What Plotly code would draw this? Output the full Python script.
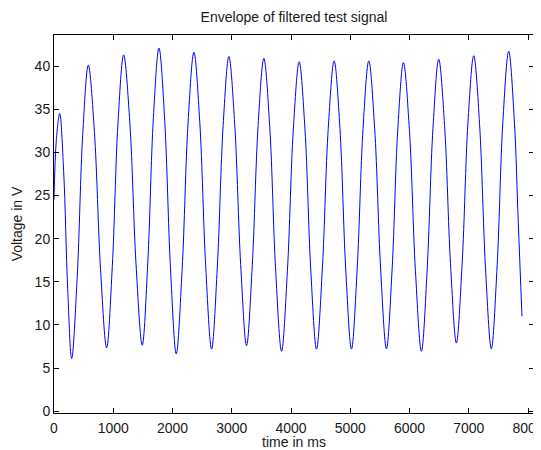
import plotly.graph_objects as go

# Time (ms) and envelope voltage (V)
time_ms = [0, 40, 96, 163, 231, 298, 392, 485, 579, 682, 785, 888, 984, 1079,
           1175, 1280, 1384, 1489, 1583, 1677, 1771, 1868, 1966, 2063, 2162, 2262,
           2361, 2460, 2560, 2659, 2756, 2854, 2951, 3050, 3150, 3249, 3346, 3444,
           3541, 3641, 3740, 3840, 3939, 4038, 4137, 4235, 4332, 4430, 4529, 4628,
           4727, 4825, 4922, 5020, 5117, 5215, 5312, 5411, 5511, 5610, 5706, 5801,
           5897, 5998, 6099, 6200, 6297, 6395, 6492, 6591, 6691, 6790, 6888, 6985,
           7083, 7182, 7281, 7380, 7478, 7575, 7673, 7770, 7835, 7897]
voltage = [24.5, 31.5, 34.5, 27.8, 14.2, 6.1, 15.6, 32.1, 40.1, 32.4, 16.5, 7.35, 16.8, 33.3,
           41.3, 33.4, 17.1, 7.65, 17.3, 34.0, 42.1, 33.7, 16.5, 6.65, 16.4, 33.4,
           41.6, 33.5, 16.8, 7.2, 16.7, 33.1, 41.1, 33.2, 17.0, 7.6, 16.9, 33.1,
           40.9, 32.9, 16.4, 6.95, 16.3, 32.6, 40.5, 32.7, 16.5, 7.2, 16.6, 32.8,
           40.6, 32.8, 16.6, 7.2, 16.6, 32.8, 40.6, 32.8, 16.6, 7.25, 16.5, 32.6,
           40.4, 32.5, 16.3, 6.95, 16.4, 32.8, 40.8, 33.1, 17.1, 7.9, 17.2, 33.4,
           41.2, 33.2, 16.7, 7.25, 16.9, 33.6, 41.7, 33.4, 21.8, 11.0]

x_ticks = [0, 1000, 2000, 3000, 4000, 5000, 6000, 7000, 8000]
y_ticks = [0, 5, 10, 15, 20, 25, 30, 35, 40]

FONT = "Liberation Sans, Arial, Helvetica, sans-serif"
FS = 14

# the page body has an 8px margin, so the figure is 8px smaller each way
W, H = 533, 442

fig = go.Figure()
fig.add_trace(go.Scatter(
    x=time_ms, y=voltage, mode="lines",
    line=dict(color="#0000ff", width=1, shape="spline", smoothing=1.0),
    showlegend=False, hoverinfo="x+y",
))

axis_common = dict(
    showline=True, linecolor="black", linewidth=1, mirror="ticks",
    ticks="inside", ticklen=5, tickwidth=1, tickcolor="black",
    showgrid=False, zeroline=False, ticklabeloverflow="allow",
    tickfont=dict(family=FONT, size=FS, color="#1a1a1a"),
)

fig.update_layout(
    width=W, height=H,
    paper_bgcolor="white", plot_bgcolor="white",
    margin=dict(l=46, r=7, t=27, b=37, autoexpand=False),
    font=dict(family=FONT, size=FS, color="#1a1a1a"),
    title=dict(text="Envelope of filtered test signal", x=0.5, xanchor="center",
               xref="paper", y=1 - 9.5 / H, yanchor="middle",
               font=dict(family=FONT, size=FS, color="#1a1a1a")),
    xaxis=dict(range=[0, 8100], tickvals=x_ticks, ticklabelstandoff=2,
               title=dict(text="time in ms", standoff=1,
                          font=dict(family=FONT, size=FS, color="#1a1a1a")),
               **axis_common),
    yaxis=dict(range=[-0.2, 43.6], tickvals=y_ticks,
               title=dict(text="Voltage in V", standoff=8,
                          font=dict(family=FONT, size=FS, color="#1a1a1a")),
               **axis_common),
)

fig.write_html("out.html")
